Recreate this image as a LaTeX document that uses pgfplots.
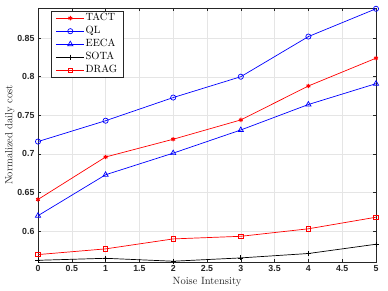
\documentclass[border=0pt]{standalone}
\usepackage{fontspec}
\setsansfont{Liberation Sans}
\usepackage{pgfplots}
\pgfplotsset{compat=1.18}
\usetikzlibrary{calc}
\definecolor{mred}{rgb}{1,0,0}
\definecolor{mblue}{rgb}{0,0,1}
\definecolor{axgray}{rgb}{0.15,0.15,0.15}
\begin{document}
\begin{tikzpicture}
\begin{axis}[
  name=ax,
  scale only axis,
  width=338pt, height=254pt,
  xmin=0, xmax=5, ymin=0.56, ymax=0.889,
  xtick={0,0.5,...,5},
  ytick={0.6,0.65,0.7,0.75,0.8,0.85},
  yticklabels={0.6,0.65,0.7,0.75,0.8,0.85},
  xticklabels={0,0.5,1,1.5,2,2.5,3,3.5,4,4.5,5},
  tick label style={font=\sffamily\bfseries\fontsize{8.8}{10}\selectfont, text=axgray},
  /pgf/number format/assume math mode=true,
  xlabel={Noise Intensity},
  ylabel={Normalized daily cost},
  label style={font=\fontsize{10.5}{12}\selectfont, text=axgray},
  xlabel style={yshift=1pt},
  ylabel style={yshift=-4pt},
  axis line style={axgray, line width=0.5pt},
  tick style={axgray, line width=0.5pt},
  major tick length=3pt,
  grid=major,
  major grid style={gray!20, line width=0.4pt},
  legend style={at={(0.0376,0.988)}, anchor=north west, font=\fontsize{10.5}{12}\selectfont,
    draw=axgray, line width=0.5pt, inner xsep=5pt, inner ysep=0.4pt, fill=white,
    nodes={inner xsep=1pt, inner ysep=2pt, text height=7pt, text depth=2pt}},
  legend cell align=left,
  legend image code/.code={\draw[mark repeat=2,mark phase=2,#1] plot coordinates {(0pt,0pt) (14pt,0pt) (28pt,0pt)};},
  every axis plot/.append style={line width=0.7pt},
]
\addplot[mred, mark=asterisk, mark size=2.2pt, mark options={line width=1pt}] coordinates {(0,0.641) (1,0.696) (2,0.719) (3,0.744) (4,0.788) (5,0.824)};
\addlegendentry{TACT}
\addplot[mblue, mark=o, mark size=2.6pt] coordinates {(0,0.716) (1,0.743) (2,0.773) (3,0.800) (4,0.852) (5,0.888)};
\addlegendentry{QL}
\addplot[mblue, mark=triangle, mark size=3pt] coordinates {(0,0.620) (1,0.673) (2,0.701) (3,0.731) (4,0.764) (5,0.791)};
\addlegendentry{EECA}
\addplot[black, mark=+, mark size=2.5pt] coordinates {(0,0.5622) (1,0.5648) (2,0.561) (3,0.5653) (4,0.571) (5,0.583)};
\addlegendentry{SOTA}
\addplot[mred, mark=square, mark size=2.2pt] coordinates {(0,0.5696) (1,0.577) (2,0.5899) (3,0.5933) (4,0.603) (5,0.618)};
\addlegendentry{DRAG}
\end{axis}
\pgfresetboundingbox
\path[use as bounding box] ($(ax.south west)+(-38pt,-29pt)$) rectangle ($(ax.north east)+(12pt,8pt)$);
\end{tikzpicture}
\end{document}
